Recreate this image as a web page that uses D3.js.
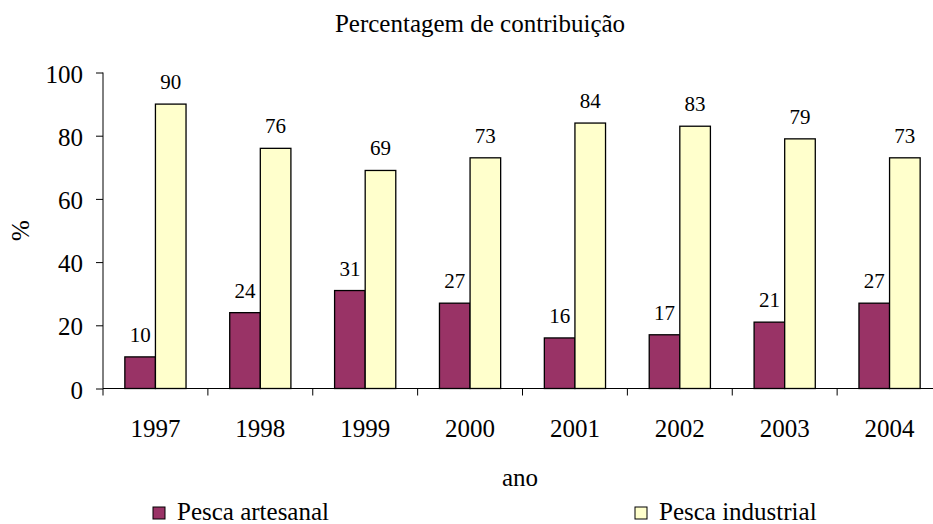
<!DOCTYPE html>
<html>
<head>
<meta charset="utf-8">
<script src="https://cdn.jsdelivr.net/npm/d3@7"></script>
<style>
  body { margin: 0; background: #fff; }
  svg text { font-family: "Liberation Serif", "Times New Roman", Times, serif; fill: #000; }
</style>
</head>
<body>
<div id="chart"></div>
<script>
// chart data
const years = ["1997", "1998", "1999", "2000", "2001", "2002", "2003", "2004"];
const artesanal = [10, 24, 31, 27, 16, 17, 21, 27];
const industrial = [90, 76, 69, 73, 84, 83, 79, 73];
const seriesNames = ["Pesca artesanal", "Pesca industrial"];
const seriesColors = ["#993366", "#FFFFCC"];
const yTicks = [0, 20, 40, 60, 80, 100];

const width = 933, height = 524;
const serif = "Liberation Serif, Times New Roman, serif";
// plot area (the original chart runs a bit past the right edge)
const plot = {left: 103, right: 942, top: 72.5, bottom: 388.5};

const svg = d3.select("#chart").append("svg")
  .attr("width", width)
  .attr("height", height)
  .style("overflow", "hidden");

// scales
let xScale = d3.scaleBand().domain(years).range([plot.left, plot.right]).padding(0);
let xInner = d3.scaleBand().domain(seriesNames).range([0, xScale.bandwidth()]).paddingInner(0).paddingOuter(0.714);
let yScale = d3.scaleLinear().domain([0, 100]).range([plot.bottom, plot.top]);

// title
svg.append("text")
  .attr("x", 480).attr("y", 32)
  .attr("text-anchor", "middle")
  .attr("font-family", serif)
  .style("font-size", "25px")
  .text("Percentagem de contribuição");

// y axis
let yAxis = svg.append("g")
  .attr("transform", "translate(" + plot.left + ",0)")
  .call(d3.axisLeft(yScale).tickValues(yTicks).tickSize(7).tickPadding(13).tickFormat(d3.format("d")))
  .attr("font-family", serif);
yAxis.select(".domain").attr("d", "M0," + plot.top + "V" + plot.bottom);
yAxis.selectAll("text").style("font-size", "25px").attr("dy", "0.38em");
yAxis.selectAll("line, path").attr("stroke", "#000");

// y axis label
svg.append("text")
  .attr("transform", "translate(29," + ((plot.top + plot.bottom) / 2) + ") rotate(-90)")
  .attr("text-anchor", "middle")
  .attr("font-family", serif)
  .style("font-size", "25px")
  .text("%");

// bars
let groups = svg.append("g").selectAll("g")
  .data(years)
  .join("g")
  .attr("transform", d => "translate(" + xScale(d) + ",0)");

const seriesValues = [artesanal, industrial];
groups.each(function(year, i) {
  let g = d3.select(this);
  seriesNames.forEach((name, s) => {
    let v = seriesValues[s][i];
    g.append("rect")
      .attr("x", xInner(name))
      .attr("y", yScale(v))
      .attr("width", xInner.bandwidth())
      .attr("height", yScale(0) - yScale(v))
      .attr("fill", seriesColors[s])
      .attr("stroke", "#000")
      .attr("stroke-width", 1.3);
    g.append("text")
      .attr("x", xInner(name) + xInner.bandwidth() / 2)
      .attr("y", yScale(v) - 15)
      .attr("text-anchor", "middle")
      .attr("font-family", serif)
      .style("font-size", "21px")
      .text(v);
  });
});

// x axis: line with ticks on category boundaries
let xAxis = svg.append("g")
  .attr("transform", "translate(0," + plot.bottom + ")")
  .call(d3.axisBottom(xScale).tickSize(0))
  .attr("font-family", serif);
xAxis.select(".domain").attr("stroke", "#000").attr("d", "M" + plot.left + ",0H" + plot.right);
xAxis.selectAll(".tick text").style("font-size", "25px").attr("dy", "0").attr("y", 48);
let boundaries = years.map(d => xScale(d)).concat([plot.right]);
xAxis.selectAll(".boundary")
  .data(boundaries)
  .join("line")
  .attr("class", "boundary")
  .attr("x1", d => d).attr("x2", d => d)
  .attr("y1", 0).attr("y2", 7)
  .attr("stroke", "#000");

// x axis label
svg.append("text")
  .attr("x", 520).attr("y", 486)
  .attr("text-anchor", "middle")
  .attr("font-family", serif)
  .style("font-size", "25px")
  .text("ano");

// legend
const legendX = [153, 635];
let legend = svg.append("g").selectAll("g")
  .data(seriesNames)
  .join("g")
  .attr("transform", (d, i) => "translate(" + legendX[i] + ",507)");
legend.append("rect")
  .attr("width", 12).attr("height", 12)
  .attr("fill", (d, i) => seriesColors[i])
  .attr("stroke", "#000");
legend.append("text")
  .attr("x", 24).attr("y", 13)
  .attr("font-family", serif)
  .style("font-size", "25px")
  .text(d => d);
</script>
</body>
</html>
